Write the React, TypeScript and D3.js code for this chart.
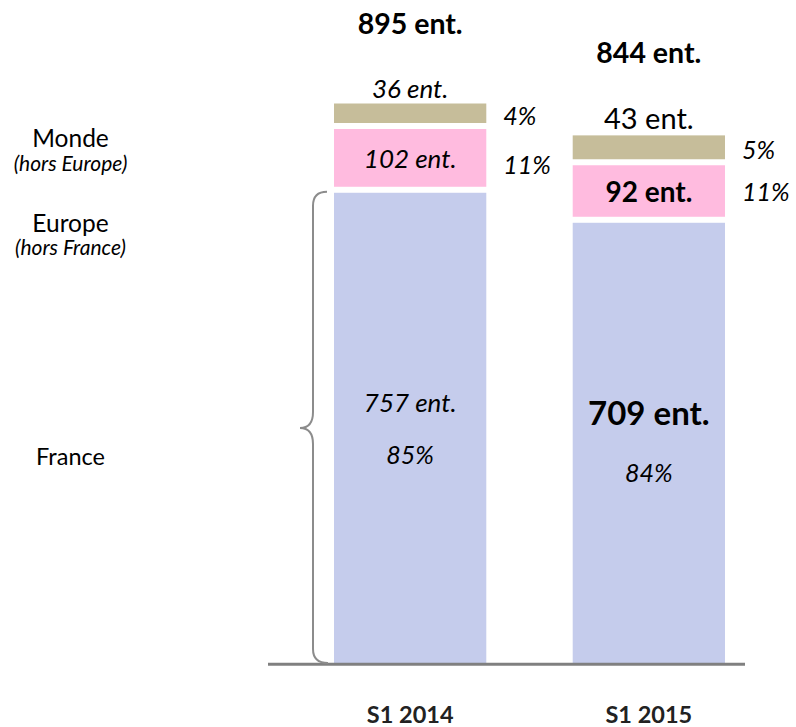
import React from 'react'
import * as d3 from 'd3'

// periods on the x axis
const categories = ['S1 2014', 'S1 2015']
// number of companies per zone, bottom to top: France, Europe, Monde
const france = [757, 709]
const europe = [102, 92]
const monde = [36, 43]
const totals = [895, 844]
// shares shown next to each segment
const francePct = [85, 84]
const europePct = [11, 11]
const mondePct = [4, 5]
// labels on the left side
const zoneLabels = [
  {name: 'Monde', sub: '(hors Europe)'},
  {name: 'Europe', sub: '(hors France)'},
  {name: 'France', sub: ''}
]

const colors = ['#c5ccec', '#ffbbdf', '#c6bd9a']
const font = 'Lato, "Open Sans", sans-serif'

export default function App() {
  const width = 796
  const height = 727

  const x = d3
    .scaleBand()
    .domain(categories)
    .range([290.8, 768.2])
    .paddingInner(0.362)
    .paddingOuter(0.181)

  const y = d3.scaleLinear().domain([0, 895]).range([663, 103.5])

  const rows = categories.map((c, i) => ({
    cat: c,
    france: france[i],
    europe: europe[i],
    monde: monde[i]
  }))
  const keys = ['france', 'europe', 'monde']
  const series = d3.stack().keys(keys)(rows as any)

  const gap = 3
  const bw = x.bandwidth()

  // small vertical tweaks for labels, per bar
  const pinkPctDy = [16, 9.5]

  const segs = series.map((s, si) =>
    s.map((d, i) => {
      const top = y(d[1]) + (si < keys.length - 1 ? gap : 0)
      const bottom = y(d[0]) - (si > 0 ? gap : 0)
      return {si, i, top, bottom, mid: (top + bottom) / 2}
    })
  )

  // left brace along the France segment of the first bar
  const bTop = segs[0][0].top - 1
  const bBot = y(0)
  const bMid = (segs[0][0].top + y(0)) / 2
  const bx = 313
  const brace = d3.path()
  brace.moveTo(bx + 14, bTop)
  brace.quadraticCurveTo(bx, bTop, bx, bTop + 14)
  brace.lineTo(bx, bMid - 16)
  brace.quadraticCurveTo(bx, bMid, bx - 13, bMid)
  brace.quadraticCurveTo(bx, bMid, bx, bMid + 16)
  brace.lineTo(bx, bBot - 14)
  brace.quadraticCurveTo(bx, bBot, bx + 15, bBot)

  const leftX = 70.5

  return (
    <svg width={width} height={height} style={{position: 'absolute', left: 0, top: 0}}>
      <rect width={width} height={height} fill="#fff" />
      {segs.map((s) =>
        s.map((d) => (
          <rect
            key={`${d.si}-${d.i}`}
            x={x(categories[d.i])}
            y={d.top}
            width={bw}
            height={d.bottom - d.top}
            fill={colors[d.si]}
          />
        ))
      )}

      <line x1={268} x2={745} y1={664.2} y2={664.2} stroke="#808080" strokeWidth={3} />
      <path d={brace.toString()} fill="none" stroke="#8c8c8c" strokeWidth={2} />

      <g fontFamily={font} fill="#000" textAnchor="middle">
        {categories.map((c, i) => {
          const cx = (x(c) as number) + bw / 2
          const right = (x(c) as number) + bw + 17
          const fr = segs[0][i]
          const eu = segs[1][i]
          const mo = segs[2][i]
          return (
            <g key={c}>
              {/* total on top */}
              <text x={cx} y={y(totals[i]) - (i === 0 ? 70 : 72)} fontWeight="bold" fontSize={28.5}>
                {totals[i]} ent.
              </text>
              {/* monde count above the bar */}
              <text
                x={cx}
                y={mo.top - 6}
                fontSize={i === 0 ? 26 : 29}
                fontStyle={i === 0 ? 'italic' : 'normal'}
              >
                {monde[i]} ent.
              </text>
              <text x={right} y={mo.mid + 12} fontSize={25} fontStyle="italic" textAnchor="start">
                {mondePct[i]}%
              </text>
              {/* europe */}
              <text
                x={cx}
                y={eu.mid + 10.5}
                fontSize={i === 0 ? 26 : 28}
                fontStyle={i === 0 ? 'italic' : 'normal'}
                fontWeight={i === 0 ? 'normal' : 'bold'}
              >
                {europe[i]} ent.
              </text>
              <text x={right} y={eu.mid + pinkPctDy[i]} fontSize={25} fontStyle="italic" textAnchor="start">
                {europePct[i]}%
              </text>
              {/* france */}
              <text
                x={cx}
                y={fr.mid - (i === 0 ? 16 : 18)}
                fontSize={i === 0 ? 26 : 33}
                fontStyle={i === 0 ? 'italic' : 'normal'}
                fontWeight={i === 0 ? 'normal' : 'bold'}
              >
                {france[i]} ent.
              </text>
              <text x={cx} y={fr.mid + (i === 0 ? 36 : 39)} fontSize={25} fontStyle="italic">
                {francePct[i]}%
              </text>
              {/* category */}
              <text x={cx} y={722.5} fontWeight="bold" fontSize={23.5} fill="#222">
                {c}
              </text>
            </g>
          )
        })}

        {/* zone labels on the left */}
        <text x={leftX} y={146.7} fontSize={24.5}>{zoneLabels[0].name}</text>
        <text x={leftX} y={170.5} fontSize={21} fontStyle="italic">{zoneLabels[0].sub}</text>
        <text x={leftX} y={231.7} fontSize={24.5}>{zoneLabels[1].name}</text>
        <text x={leftX} y={255} fontSize={21} fontStyle="italic">{zoneLabels[1].sub}</text>
        <text x={leftX} y={465} fontSize={23.5}>{zoneLabels[2].name}</text>
      </g>
    </svg>
  )
}
